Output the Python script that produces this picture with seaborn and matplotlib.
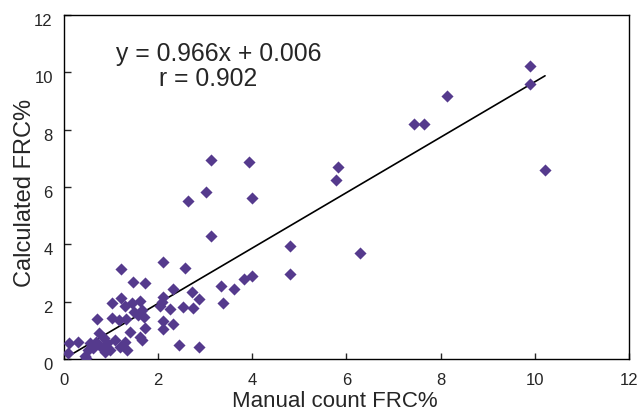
import numpy as np
import pandas as pd
import matplotlib
matplotlib.use("Agg")
import matplotlib.pyplot as plt
import matplotlib.transforms as mtransforms
import seaborn as sns

# values
manual = [9.91, 9.91, 10.22, 8.13, 7.43, 7.64, 5.82, 5.77, 6.29, 3.12,
          3.93, 3.02, 2.63, 3.99, 3.12, 4.80, 4.80, 2.10, 2.57, 3.99,
          3.83, 3.33, 3.61, 2.32, 2.73, 2.87, 2.10, 1.21, 1.46, 1.73,
          3.38, 2.75, 2.52, 2.25, 2.09, 2.04, 1.03, 1.22, 1.30, 1.44,
          1.61, 1.49, 1.65, 1.70, 1.58, 1.32, 1.17, 1.01, 0.71, 1.72,
          1.61, 1.65, 2.10, 2.31, 2.10, 2.44, 2.87, 1.08, 1.19, 1.33,
          1.30, 0.75, 0.84, 0.55, 0.30, 0.11, 0.09, 0.45, 0.52, 0.62,
          0.47, 0.76, 0.91, 0.98, 0.68, 1.40, 0.88]
calculated = [10.22, 9.59, 6.59, 9.16, 8.20, 8.20, 6.69, 6.24, 3.69, 6.94,
              6.86, 5.81, 5.51, 5.63, 4.29, 3.94, 2.98, 3.40, 3.16, 2.90,
              2.79, 2.55, 2.45, 2.45, 2.35, 2.10, 2.17, 3.15, 2.70, 2.64,
              1.94, 1.77, 1.83, 1.73, 2.00, 1.85, 1.94, 2.12, 1.86, 1.94,
              2.02, 1.65, 1.71, 1.48, 1.53, 1.38, 1.36, 1.42, 1.38, 1.07,
              0.78, 0.66, 1.33, 1.22, 1.03, 0.49, 0.41, 0.66, 0.43, 0.31,
              0.60, 0.90, 0.72, 0.55, 0.58, 0.56, 0.20, 0.10, 0.31, 0.37,
              0.05, 0.45, 0.55, 0.31, 0.60, 0.95, 0.25]
slope = 0.966
intercept = 0.006
r_value = 0.902
ticks = [0, 2, 4, 6, 8, 10, 12]

df = pd.DataFrame({"manual": manual, "calculated": calculated})

sns.set_style("white")
plt.rcParams["font.family"] = ["Liberation Sans", "DejaVu Sans"]

fig, ax = plt.subplots(figsize=(6.41, 4.16), dpi=100)
fig.subplots_adjust(left=0.0998, right=0.981, top=0.964, bottom=0.137)

sns.scatterplot(x="manual", y="calculated", data=df, ax=ax, marker="D",
                s=38, color="#553A8D", linewidth=0, zorder=3)

xs = np.array([df["manual"].min(), df["manual"].max()])
ax.plot(xs, slope * xs + intercept, color="black", lw=1.2, zorder=2)

ax.text(3.29, 10.64, f"y = {slope:.3f}x + {intercept:.3f}", ha="center",
        va="center", fontsize=17.8)
ax.text(3.07, 9.77, f"r = {r_value:.3f}", ha="center", va="center", fontsize=17.8)

ax.set_xlim(0, 12)
ax.set_ylim(0, 12)
ax.set_xticks(ticks)
ax.set_yticks(ticks)
ax.set_xlabel("Manual count FRC%", fontsize=16)
ax.set_ylabel("Calculated FRC%", fontsize=17)
ax.xaxis.set_label_coords(0.48, -0.093)
ax.yaxis.set_label_coords(-0.05, 0.483)
ax.tick_params(axis="x", direction="in", length=4, width=1, pad=10,
               labelsize=12, bottom=True, top=False)
ax.tick_params(axis="y", direction="in", length=5, width=1, pad=8,
               labelsize=12, left=True, right=False)
for sp in ax.spines.values():
    sp.set_visible(True)
    sp.set_color("black")
    sp.set_linewidth(1)

# y tick labels sit a little below their ticks in the original
offset = mtransforms.ScaledTranslation(0, -5 / 100, fig.dpi_scale_trans)
for lab in ax.get_yticklabels():
    lab.set_transform(lab.get_transform() + offset)

fig.savefig("out.png", dpi=100)
